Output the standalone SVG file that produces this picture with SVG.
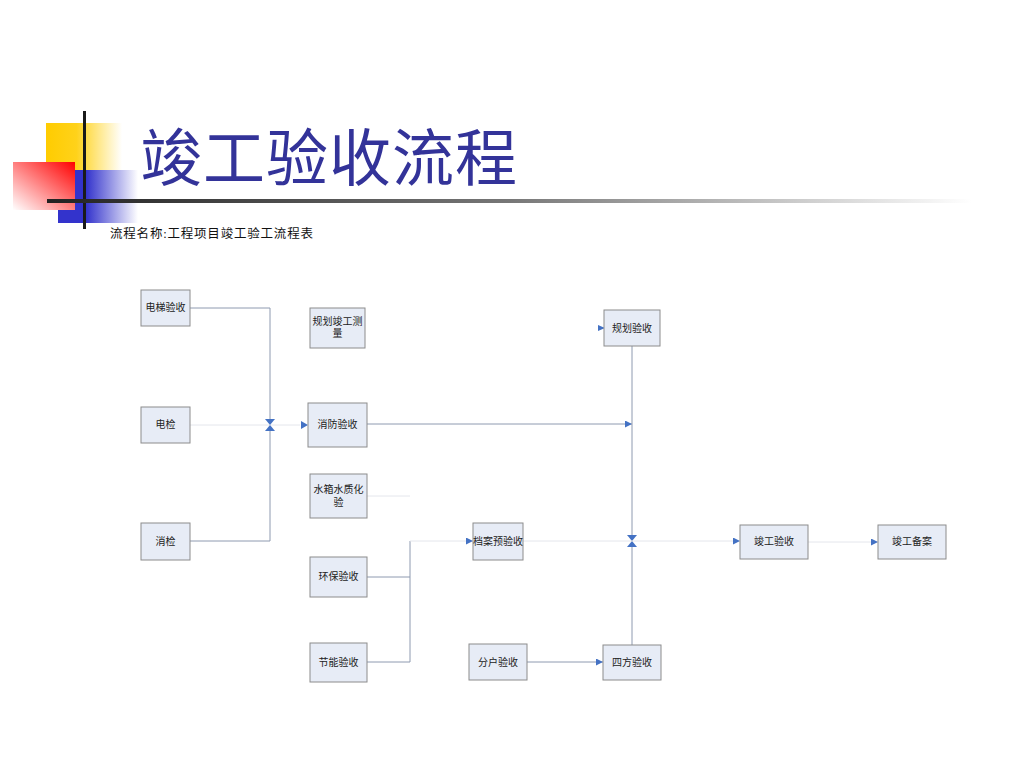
<svg xmlns="http://www.w3.org/2000/svg" width="1024" height="768" viewBox="0 0 1024 768">
<defs>
<linearGradient id="gy" x1="0" y1="0" x2="1" y2="0"><stop offset="0" stop-color="#FFCC00"/><stop offset="0.4" stop-color="#FFD21A"/><stop offset="1" stop-color="#FFFFFF"/></linearGradient>
<linearGradient id="gb" x1="0" y1="0" x2="1" y2="0"><stop offset="0" stop-color="#3333CC"/><stop offset="0.35" stop-color="#3333CC"/><stop offset="1" stop-color="#FFFFFF"/></linearGradient>
<linearGradient id="gr" x1="1" y1="0" x2="0" y2="1"><stop offset="0" stop-color="#FF0000"/><stop offset="1" stop-color="#FFFFFF"/></linearGradient>
<linearGradient id="gl" x1="0" y1="0" x2="1" y2="0"><stop offset="0" stop-color="#222222"/><stop offset="0.5" stop-color="#777777"/><stop offset="1" stop-color="#FFFFFF"/></linearGradient>
<marker id="ar" viewBox="0 0 10 10" refX="10" refY="5" markerWidth="7" markerHeight="7" markerUnits="userSpaceOnUse" orient="auto"><path d="M0,0 L10,5 L0,10 z" fill="#4472C4"/></marker>
<style>
.box{fill:#E7ECF6;stroke:#8C8C8C;stroke-width:1}
.lbl{font-family:"Liberation Serif","Noto Sans CJK SC",serif;font-size:10px;fill:#222;text-anchor:middle}
.ln{fill:none;stroke:#8E9AB0;stroke-width:1}
.fl{fill:none;stroke:#E4E6EC;stroke-width:1}
</style>
</defs>
<rect width="1024" height="768" fill="#FFFFFF"/>
<g id="decor">
<rect x="46" y="123" width="76" height="72" fill="url(#gy)"/>
<rect x="58" y="170" width="80" height="53" fill="url(#gb)"/>
<rect x="13" y="162" width="62" height="48" fill="url(#gr)"/>
<rect x="83" y="111" width="3" height="118" fill="#1A1A1A"/>
<rect x="47" y="199" width="925" height="4" fill="url(#gl)"/>
</g>
<g id="title">
<text x="140" y="181" font-family="'Liberation Serif','Noto Sans CJK SC',serif" font-size="62" letter-spacing="1" fill="#333399">竣工验收流程</text>
<text x="110" y="238" font-family="'Liberation Serif','Noto Sans CJK SC',serif" font-size="12.5" letter-spacing="0.8" fill="#111">流程名称:工程项目竣工验工流程表</text>
</g>
<g id="connectors">
<polyline class="ln" points="190,308 270,308 270,421"/>
<polyline class="ln" points="190,541 270,541 270,429"/>
<line class="fl" x1="190" y1="425" x2="270" y2="425"/>
<line class="fl" x1="270" y1="425" x2="300" y2="425"/>
<path d="M265,419 L275,419 L270,425 z" fill="#4472C4"/>
<path d="M265,431 L275,431 L270,425 z" fill="#4472C4"/>
<path d="M301,421 L308,425 L301,429 z" fill="#4472C4"/>
<line class="ln" x1="367" y1="424" x2="632" y2="424" marker-end="url(#ar)"/>
<line class="ln" x1="632" y1="346" x2="632" y2="541"/>
<line class="ln" x1="632" y1="645" x2="632" y2="541"/>
<path d="M627,535 L637,535 L632,541 z" fill="#4472C4"/>
<path d="M627,547 L637,547 L632,541 z" fill="#4472C4"/>
<path d="M598,325 L605,328 L598,331 z" fill="#4472C4"/>
<line class="fl" x1="367" y1="496" x2="410" y2="496"/>
<polyline class="ln" points="367,577 410,577"/>
<polyline class="ln" points="367,662 410,662 410,541"/>
<line class="fl" x1="410" y1="541" x2="473" y2="541" marker-end="url(#ar)"/>
<line class="fl" x1="523" y1="541" x2="740" y2="541" marker-end="url(#ar)"/>
<line class="fl" x1="808" y1="542" x2="878" y2="542" marker-end="url(#ar)"/>
<line class="ln" x1="527" y1="662" x2="603" y2="662" marker-end="url(#ar)"/>
</g>
<g id="n1"><rect class="box" x="141" y="290" width="49" height="36"/><text class="lbl" x="165.5" y="311">电梯验收</text></g>
<g id="n2"><rect class="box" x="141" y="407" width="49" height="36"/><text class="lbl" x="165.5" y="428">电检</text></g>
<g id="n3"><rect class="box" x="141" y="523" width="49" height="37"/><text class="lbl" x="165.5" y="545">消检</text></g>
<g id="n4"><rect class="box" x="310" y="308" width="55" height="40"/><text class="lbl" x="337.5" y="325">规划竣工测</text><text class="lbl" x="337.5" y="337">量</text></g>
<g id="n5"><rect class="box" x="308" y="403" width="59" height="44"/><text class="lbl" x="337.5" y="428">消防验收</text></g>
<g id="n6"><rect class="box" x="310" y="474" width="57" height="44"/><text class="lbl" x="338.5" y="493">水箱水质化</text><text class="lbl" x="338.5" y="506">验</text></g>
<g id="n7"><rect class="box" x="310" y="557" width="57" height="40"/><text class="lbl" x="338.5" y="580">环保验收</text></g>
<g id="n8"><rect class="box" x="310" y="643" width="57" height="39"/><text class="lbl" x="338.5" y="666">节能验收</text></g>
<g id="n9"><rect class="box" x="473" y="523" width="50" height="37"/><text class="lbl" x="498" y="545">档案预验收</text></g>
<g id="n10"><rect class="box" x="604" y="310" width="56" height="36"/><text class="lbl" x="632" y="332">规划验收</text></g>
<g id="n11"><rect class="box" x="740" y="525" width="68" height="34"/><text class="lbl" x="774" y="545">竣工验收</text></g>
<g id="n12"><rect class="box" x="878" y="525" width="68" height="34"/><text class="lbl" x="912" y="545">竣工备案</text></g>
<g id="n13"><rect class="box" x="469" y="644" width="58" height="36"/><text class="lbl" x="498" y="666">分户验收</text></g>
<g id="n14"><rect class="box" x="603" y="645" width="58" height="35"/><text class="lbl" x="632" y="666">四方验收</text></g>
</svg>
